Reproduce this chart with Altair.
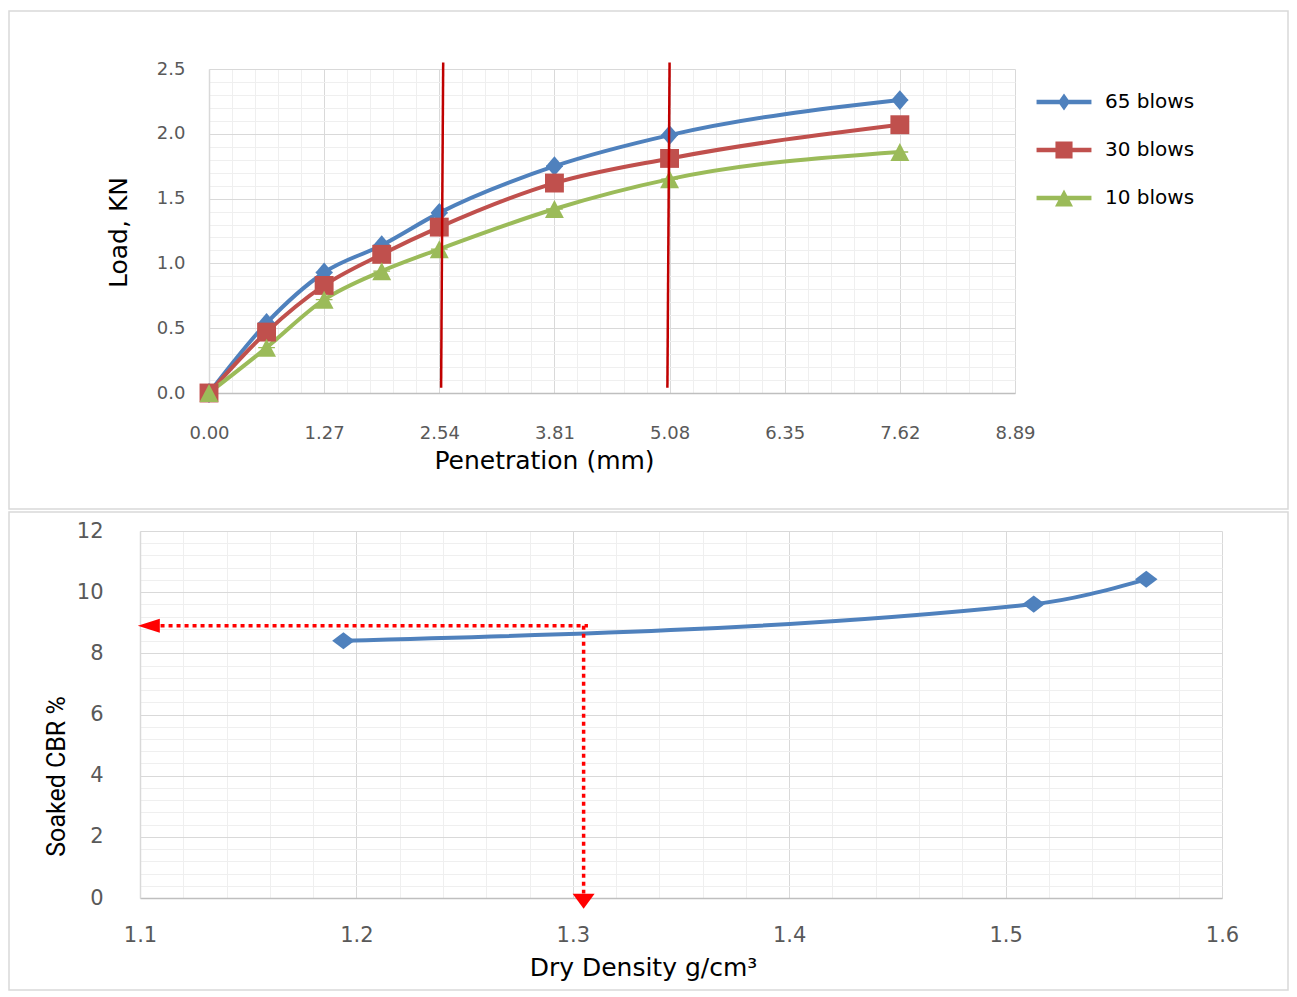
import altair as alt
import pandas as pd

# ---------------- top panel: load vs penetration ----------------
penetration = [0.0, 0.635, 1.27, 1.905, 2.54, 3.81, 5.08, 7.62]
load_65 = [0.0, 0.54, 0.93, 1.14, 1.39, 1.75, 1.99, 2.26]
load_30 = [0.0, 0.47, 0.83, 1.07, 1.28, 1.62, 1.81, 2.07]
load_10 = [0.0, 0.35, 0.72, 0.94, 1.11, 1.42, 1.65, 1.86]
series_names = ["65 blows", "30 blows", "10 blows"]
series_colors = ["#4F81BD", "#C0504D", "#9BBB59"]
pen_ticks = [0.00, 1.27, 2.54, 3.81, 5.08, 6.35, 7.62, 8.89]
load_ticks = [0.0, 0.5, 1.0, 1.5, 2.0, 2.5]
# red reference lines at 2.54 mm and 5.08 mm (drawn slightly slanted in the figure)
ref_top_x = [2.583, 5.080]
ref_bot_x = [2.560, 5.056]
ref_top_y = [2.55, 2.55]
ref_bot_y = [0.04, 0.04]

# ---------------- bottom panel: soaked CBR vs dry density ----------------
dry_density = [1.194, 1.513, 1.565]
soaked_cbr = [8.41, 9.61, 10.42]
density_ticks = [1.1, 1.2, 1.3, 1.4, 1.5, 1.6]
cbr_ticks = [0, 2, 4, 6, 8, 10, 12]
read_density = 1.305
read_cbr = 8.9
read_line_start = 1.1095
read_line_bottom = 0.15

# minor grid positions
top_minor_x = [round(i * 0.254, 3) for i in range(36) if i % 5]
top_minor_y = [round(i * 0.1, 2) for i in range(26) if i % 5]
bot_minor_x = [round(1.1 + i * 0.02, 3) for i in range(26) if i % 5]
bot_minor_y = [round(i * 0.4, 2) for i in range(31) if i % 5]

FONT = "DejaVu Sans"
NARROW = "Roboto"
GRID_MAJOR = "#D9D9D9"
GRID_MINOR = "#EFEFEF"
TICK_COLOR = "#595959"

# the top plot area starts SHIFT px to the right of the bottom plot area
SHIFT = 69
TOP_W, TOP_H = 806, 324
FRAME_RIGHT = 1148  # right edge of both panel frames, relative to the bottom plot origin

# marker paths
diamond_path = "M0,-1.1L0.95,0L0,1.1L-0.95,0Z"
square_path = "M-1.05,-1.05H1.05V1.05H-1.05Z"
triangle_path = "M0,-1L1.05,1L-1.05,1Z"
marker_paths = [diamond_path, square_path, triangle_path]
leg_line = "M-3.05,-0.25H3.05V0.25H-3.05Z"
legend_paths = [
    leg_line + "M0,-0.95L0.67,0L0,0.95L-0.67,0Z",
    leg_line + "M-0.95,-0.95H0.95V0.95H-0.95Z",
    leg_line + "M0,-0.95L1,0.95L-1,0.95Z",
]

# ================= TOP CHART =================
rows = []
for name, vals in zip(series_names, [load_65, load_30, load_10]):
    for i, (p, v) in enumerate(zip(penetration, vals)):
        rows.append({"pen": p, "load": v, "series": name, "order": i})
df_top = pd.DataFrame(rows)

xs_top = alt.Scale(domain=[0, 8.89], nice=False, zero=False, range=[SHIFT, SHIFT + TOP_W])
ys_top = alt.Scale(domain=[0, 2.5], nice=False)
color_scale = alt.Scale(domain=series_names, range=series_colors)


def grid_axis(values, orient):
    return alt.Axis(values=values, grid=True, gridColor=GRID_MINOR, gridWidth=1,
                    labels=False, ticks=False, tickSize=0, domain=False, title=None,
                    orient=orient)


frame_top = alt.Chart(pd.DataFrame({"k": [0]})).mark_rect(
    fill="transparent", stroke="#D9D9D9", strokeWidth=1.5
).encode(x=alt.value(SHIFT - 200), x2=alt.value(FRAME_RIGHT), y=alt.value(-58), y2=alt.value(440))

minor_top = alt.Chart(df_top).mark_point(opacity=0).encode(
    x=alt.X("pen:Q", scale=xs_top, axis=grid_axis(top_minor_x, "bottom")),
    y=alt.Y("load:Q", scale=ys_top, axis=grid_axis(top_minor_y, "left")),
)

legend_kw = dict(title=None, orient="none", legendX=914, legendY=23,
                 labelFont=FONT, labelFontSize=20, labelColor="#000000",
                 symbolSize=324, symbolStrokeWidth=0, symbolOpacity=1, labelOffset=31,
                 rowPadding=28, padding=0)

lines_top = alt.Chart(df_top).mark_line(interpolate="monotone", strokeWidth=4).encode(
    x=alt.X("pen:Q", scale=xs_top, axis=alt.Axis(
        values=pen_ticks, format=".2f", orient="bottom",
        grid=True, gridColor=GRID_MAJOR, gridWidth=1,
        ticks=False, tickSize=0, domain=True, domainColor="#BFBFBF", domainWidth=1.5,
        labelFont=FONT, labelFontSize=18, labelColor=TICK_COLOR, labelPadding=31,
        labelOverlap=False, labelFlush=False,
        title="Penetration (mm)", titleFont=FONT, titleFontSize=25, titleFontWeight="normal",
        titleColor="#000000", titleX=SHIFT + 335, titleY=75, titleBaseline="alphabetic",
        titleAlign="center")),
    y=alt.Y("load:Q", scale=ys_top, axis=alt.Axis(
        values=load_ticks, format=".1f", orient="left", offset=-SHIFT,
        grid=True, gridColor=GRID_MAJOR, gridWidth=1,
        ticks=False, tickSize=0, domain=True, domainColor="#D9D9D9", domainWidth=1.5,
        labelFont=FONT, labelFontSize=18, labelColor=TICK_COLOR, labelPadding=24,
        labelOverlap=False, labelFlush=False,
        title="Load, KN", titleFont=FONT, titleFontSize=25, titleFontWeight="normal",
        titleColor="#000000", titleX=-83, titleY=163, titleBaseline="alphabetic",
        titleAlign="center", titleAngle=270)),
    color=alt.Color("series:N", scale=color_scale, legend=alt.Legend(**legend_kw)),
    shape=alt.Shape("series:N", scale=alt.Scale(domain=series_names, range=legend_paths),
                    legend=alt.Legend(**legend_kw)),
    order="order:Q",
)

marker_layers = []
for name, col, path in zip(series_names, series_colors, marker_paths):
    marker_layers.append(
        alt.Chart(df_top).transform_filter(alt.datum.series == name).mark_point(
            shape=path, filled=True, size=324, opacity=1, color=col, strokeWidth=0
        ).encode(
            x=alt.X("pen:Q", scale=xs_top, axis=None),
            y=alt.Y("load:Q", scale=ys_top, axis=None),
        )
    )

df_ref = pd.DataFrame({"x1": ref_top_x, "x2": ref_bot_x, "y1": ref_top_y, "y2": ref_bot_y})
ref_lines = alt.Chart(df_ref).mark_rule(color="#C00000", strokeWidth=2.5).encode(
    x=alt.X("x1:Q", scale=xs_top, axis=None), x2="x2:Q",
    y=alt.Y("y1:Q", scale=ys_top, axis=None), y2="y2:Q",
)

top = alt.layer(
    frame_top, minor_top, lines_top, *marker_layers, ref_lines
).resolve_axis(x="independent", y="independent").properties(width=TOP_W, height=TOP_H)

# ================= BOTTOM CHART =================
df_bot = pd.DataFrame({"dens": dry_density, "cbr": soaked_cbr})
xs_bot = alt.Scale(domain=[1.1, 1.6], nice=False, zero=False)
ys_bot = alt.Scale(domain=[0, 12], nice=False)

frame_bot = alt.Chart(pd.DataFrame({"k": [0]})).mark_rect(
    fill="transparent", stroke="#D9D9D9", strokeWidth=1.5
).encode(x=alt.value(-131), x2=alt.value(FRAME_RIGHT), y=alt.value(-19), y2=alt.value(459))

minor_bot = alt.Chart(df_bot).mark_point(opacity=0).encode(
    x=alt.X("dens:Q", scale=xs_bot, axis=grid_axis(bot_minor_x, "bottom")),
    y=alt.Y("cbr:Q", scale=ys_bot, axis=grid_axis(bot_minor_y, "left")),
)

line_bot = alt.Chart(df_bot).mark_line(
    interpolate="monotone", strokeWidth=4, color="#4F81BD"
).encode(
    x=alt.X("dens:Q", scale=xs_bot, axis=alt.Axis(
        values=density_ticks, format=".1f", orient="bottom",
        grid=True, gridColor=GRID_MAJOR, gridWidth=1,
        ticks=False, tickSize=0, domain=True, domainColor="#BFBFBF", domainWidth=1.5,
        labelFont=FONT, labelFontSize=21, labelColor=TICK_COLOR, labelPadding=26,
        labelOverlap=False, labelFlush=False,
        title="Dry Density g/cm³", titleFont=FONT, titleFontSize=25, titleFontWeight="normal",
        titleColor="#000000", titleX=503, titleY=77, titleBaseline="alphabetic",
        titleAlign="center")),
    y=alt.Y("cbr:Q", scale=ys_bot, axis=alt.Axis(
        values=cbr_ticks, format="d", orient="left",
        grid=True, gridColor=GRID_MAJOR, gridWidth=1,
        ticks=False, tickSize=0, domain=True, domainColor="#D9D9D9", domainWidth=1.5,
        labelFont=FONT, labelFontSize=21, labelColor=TICK_COLOR, labelPadding=37,
        labelOverlap=False, labelFlush=False,
        title="Soaked CBR %", titleFont=NARROW, titleFontSize=25,
        titleFontWeight="normal", titleColor="#000000", titleX=-76, titleY=245,
        titleBaseline="alphabetic", titleAlign="center", titleAngle=270)),
    order="dens:Q",
)

points_bot = alt.Chart(df_bot).mark_point(
    shape="M0,-0.95L1.25,0L0,0.95L-1.25,0Z", filled=True, size=324, opacity=1,
    color="#4F81BD", strokeWidth=0
).encode(
    x=alt.X("dens:Q", scale=xs_bot, axis=None),
    y=alt.Y("cbr:Q", scale=ys_bot, axis=None),
)

df_read = pd.DataFrame({
    "x1": [read_line_start, read_density],
    "x2": [read_density + 0.002, read_density],
    "y1": [read_cbr, read_cbr],
    "y2": [read_cbr, read_line_bottom],
})
read_lines = alt.Chart(df_read).mark_rule(
    color="#FF0000", strokeWidth=3.5, strokeDash=[4, 4]
).encode(
    x=alt.X("x1:Q", scale=xs_bot, axis=None), x2="x2:Q",
    y=alt.Y("y1:Q", scale=ys_bot, axis=None), y2="y2:Q",
)

arrow_left = alt.Chart(pd.DataFrame({"d": [1.1], "c": [read_cbr]})).mark_point(
    shape="M-0.2,0L1.8,-0.64L1.8,0.64Z", filled=True, size=484, opacity=1,
    color="#FF0000", strokeWidth=0
).encode(x=alt.X("d:Q", scale=xs_bot, axis=None), y=alt.Y("c:Q", scale=ys_bot, axis=None))

arrow_down = alt.Chart(pd.DataFrame({"d": [read_density], "c": [0.0]})).mark_point(
    shape="M0,0.97L-1,-0.39L1,-0.39Z", filled=True, size=484, opacity=1,
    color="#FF0000", strokeWidth=0
).encode(x=alt.X("d:Q", scale=xs_bot, axis=None), y=alt.Y("c:Q", scale=ys_bot, axis=None))

bottom = alt.layer(
    frame_bot, minor_bot, line_bot, points_bot, read_lines, arrow_left, arrow_down
).resolve_axis(x="independent", y="independent").properties(width=1082, height=367)

chart = alt.vconcat(top, bottom, spacing=1).properties(
    padding={"left": 0, "top": 2, "right": 0, "bottom": 0}
).configure_view(stroke=None)

chart.save("out.html", embed_options={"renderer": "svg", "actions": False})
